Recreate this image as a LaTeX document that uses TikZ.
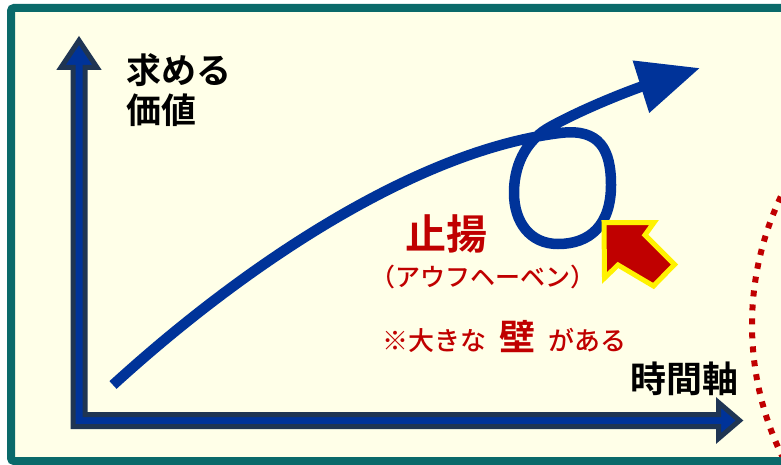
\documentclass[tikz,border=0pt]{standalone}
\usepackage{fontspec}
\newfontfamily\jpfont{Noto Sans CJK JP Medium}
\newfontfamily\jpbold{Noto Sans CJK JP Bold}
\usetikzlibrary{arrows.meta}
\definecolor{framegreen}{HTML}{0A6A6A}
\definecolor{boardyellow}{HTML}{FFFFE8}
\definecolor{axisnavy}{HTML}{1F3553}
\definecolor{curveblue}{HTML}{003399}
\definecolor{wallred}{HTML}{C00000}
\newcommand{\boardtext}[4] {\node at (#1) (#2) [#3] {#4};}
\tikzset{
  blacktext/.style={anchor=west, inner sep=0pt, text=black, font=\jpbold\fontsize{#1}{40}\selectfont},
  redtext/.style={anchor=west, inner sep=0pt, text=wallred, font=\jpfont\fontsize{#1}{#1}\selectfont},
}

\begin{document}
\begin{tikzpicture}[x=1pt, y=-1pt]
\useasboundingbox (0,0) rectangle (781,465);
\fill [white] (0,0) rectangle (781,465);
\fill [boardyellow] (11,8) rectangle (800,461);

% dotted arc on the right
\draw [wallred, line width=6pt, dash pattern=on 6pt off 8pt] (1052,325) ++(208:300) arc [start angle=208, end angle=150, radius=300];

\draw [framegreen, line width=8pt, rounded corners=3pt] (11,8) rectangle (800,461);

% axes
\draw [axisnavy, fill=curveblue, line width=5pt] (73,426.5) -- (73,67.5) -- (61,67.5) -- (79,40.5) -- (97,67.5) -- (85,67.5) -- (85,414.5) -- (718.5,414.5) -- (718.5,402.5) -- (739.5,420.5) -- (718.5,438.5) -- (718.5,426.5) -- cycle;

% value curve with the loop
\draw [curveblue, line width=10.5pt, -{Triangle[length=62pt,width=52pt]}] (113,385) .. controls (250,260) and (420,150) .. (560,133) .. controls (600,128) and (611,150) .. (611,185) .. controls (611,225) and (590,244) .. (558,244) .. controls (530,244) and (514,222) .. (514,193) .. controls (514,160) and (530,138) .. (550,127) .. controls (590,105) and (640,87) .. (700,68);

% block arrow
\draw [yellow, fill=wallred, line width=5pt] (604,222.5) -- (654,222.5) -- (645,235) -- (674.5,264.5) -- (653.5,286) -- (618,265) -- (604.5,278) -- cycle;

\boardtext{126,53}{value}{blacktext=35, anchor=north west, align=left}{求める\\価値};
\boardtext{630,379}{timeaxis}{blacktext=36}{時間軸};
\boardtext{405,234}{shiyou}{redtext=41, font=\jpbold\fontsize{41}{41}\selectfont}{止揚};
\boardtext{370,277}{aufheben}{redtext=25}{（アウフヘーベン）};
\boardtext{382,337}{wall}{redtext=26}{※大きな\enspace{\jpbold\fontsize{36}{36}\selectfont 壁}\enspace がある};

\end{tikzpicture}
\end{document}
